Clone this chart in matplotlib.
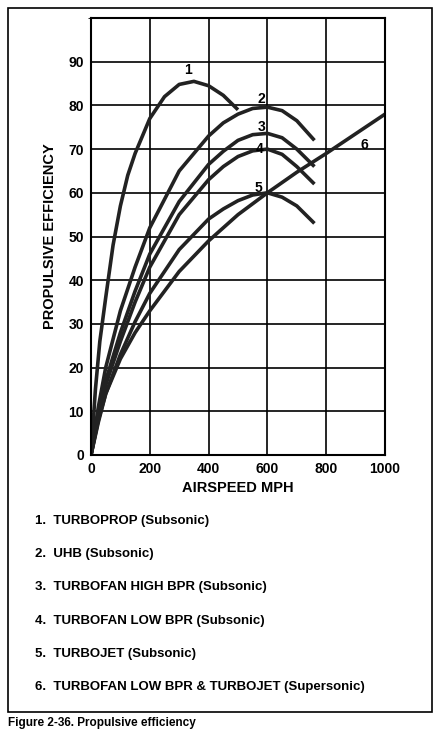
import matplotlib
matplotlib.use("Agg")
import matplotlib.pyplot as plt
from matplotlib.patches import Rectangle

# curve data: (airspeed mph, efficiency %)
c1_x = [0, 15, 30, 50, 75, 100, 125, 150, 200, 250, 300, 350, 400, 450, 500]
c1_y = [0, 15, 26, 36, 48, 57, 64, 69, 77, 82, 84.8, 85.5, 84.5, 82.3, 79]
c2_x = [0, 25, 50, 100, 150, 200, 300, 400, 450, 500, 550, 600, 650, 700, 760]
c2_y = [0, 11, 20, 33, 43, 52, 65, 73, 76, 78, 79.3, 79.6, 78.8, 76.5, 72]
c3_x = [0, 25, 50, 100, 150, 200, 300, 400, 450, 500, 550, 600, 650, 700, 760]
c3_y = [0, 9, 17, 28, 37.5, 46, 58, 66.5, 69.5, 72, 73.3, 73.6, 72.6, 70, 66]
c4_x = [0, 25, 50, 100, 150, 200, 300, 400, 450, 500, 550, 600, 650, 700, 760]
c4_y = [0, 8.5, 16, 26, 35, 43, 55, 63, 66, 68.3, 69.6, 70, 68.8, 66, 62]
c5_x = [0, 25, 50, 100, 150, 200, 300, 400, 450, 500, 550, 600, 650, 700, 760]
c5_y = [0, 7.5, 14, 23, 30.5, 37, 47, 54, 56.3, 58.2, 59.5, 60, 59, 57, 53]
c6_x = [0, 25, 50, 100, 150, 200, 300, 400, 500, 600, 700, 800, 900, 1000]
c6_y = [0, 8, 14, 22, 28, 33, 42, 49, 55, 60, 64.7, 69, 73.5, 78]

labels = ["1", "2", "3", "4", "5", "6"]
label_pos = [(330, 88), (580, 81.5), (580, 75), (575, 70), (570, 61), (930, 71)]
legend = ["1.  TURBOPROP (Subsonic)",
          "2.  UHB (Subsonic)",
          "3.  TURBOFAN HIGH BPR (Subsonic)",
          "4.  TURBOFAN LOW BPR (Subsonic)",
          "5.  TURBOJET (Subsonic)",
          "6.  TURBOFAN LOW BPR & TURBOJET (Supersonic)"]

plt.rcParams["font.family"] = ["Liberation Sans", "DejaVu Sans"]
plt.rcParams["font.weight"] = "bold"

fig = plt.figure(figsize=(4.42, 7.37), dpi=100)
W, H = 442, 737
ax = fig.add_axes([91 / W, 1 - 455 / H, 294 / W, 437 / H])

for xs, ys in [(c1_x, c1_y), (c2_x, c2_y), (c3_x, c3_y),
               (c4_x, c4_y), (c5_x, c5_y), (c6_x, c6_y)]:
    ax.plot(xs, ys, color="#222222", linewidth=2.6, solid_capstyle="butt",
            solid_joinstyle="round")
for lab, (x, y) in zip(labels, label_pos):
    ax.text(x, y, lab, fontsize=10, fontweight="bold", ha="center", va="center")

ax.set_xlim(0, 1000)
ax.set_ylim(0, 100)
ax.set_xticks(range(0, 1001, 200))
ax.set_yticks(range(0, 91, 10))
ax.set_yticks(range(0, 101, 10), minor=True)
ax.grid(True, which="both", color="black", linewidth=1.2)
ax.tick_params(length=0, labelsize=10, pad=5)
for s in ax.spines.values():
    s.set_linewidth(1.5)
ax.set_xlabel("AIRSPEED MPH", fontsize=10.5, fontweight="bold", labelpad=4)
ax.set_ylabel("PROPULSIVE EFFICIENCY", fontsize=10.5, fontweight="bold", labelpad=8)

for i, t in enumerate(legend):
    fig.text(35 / W, 1 - (521 + 33.2 * i) / H, t, fontsize=9.5,
             fontweight="bold", va="center")

fig.patches.append(Rectangle((8 / W, 1 - 712 / H), 424 / W, 704 / H,
                             transform=fig.transFigure, fill=False,
                             edgecolor="black", linewidth=1.2))
fig.text(8 / W, 1 - 723 / H, "Figure 2-36. Propulsive efficiency",
         fontsize=8.5, fontweight="bold", va="center")

fig.savefig("out.png", dpi=100, facecolor="white")
